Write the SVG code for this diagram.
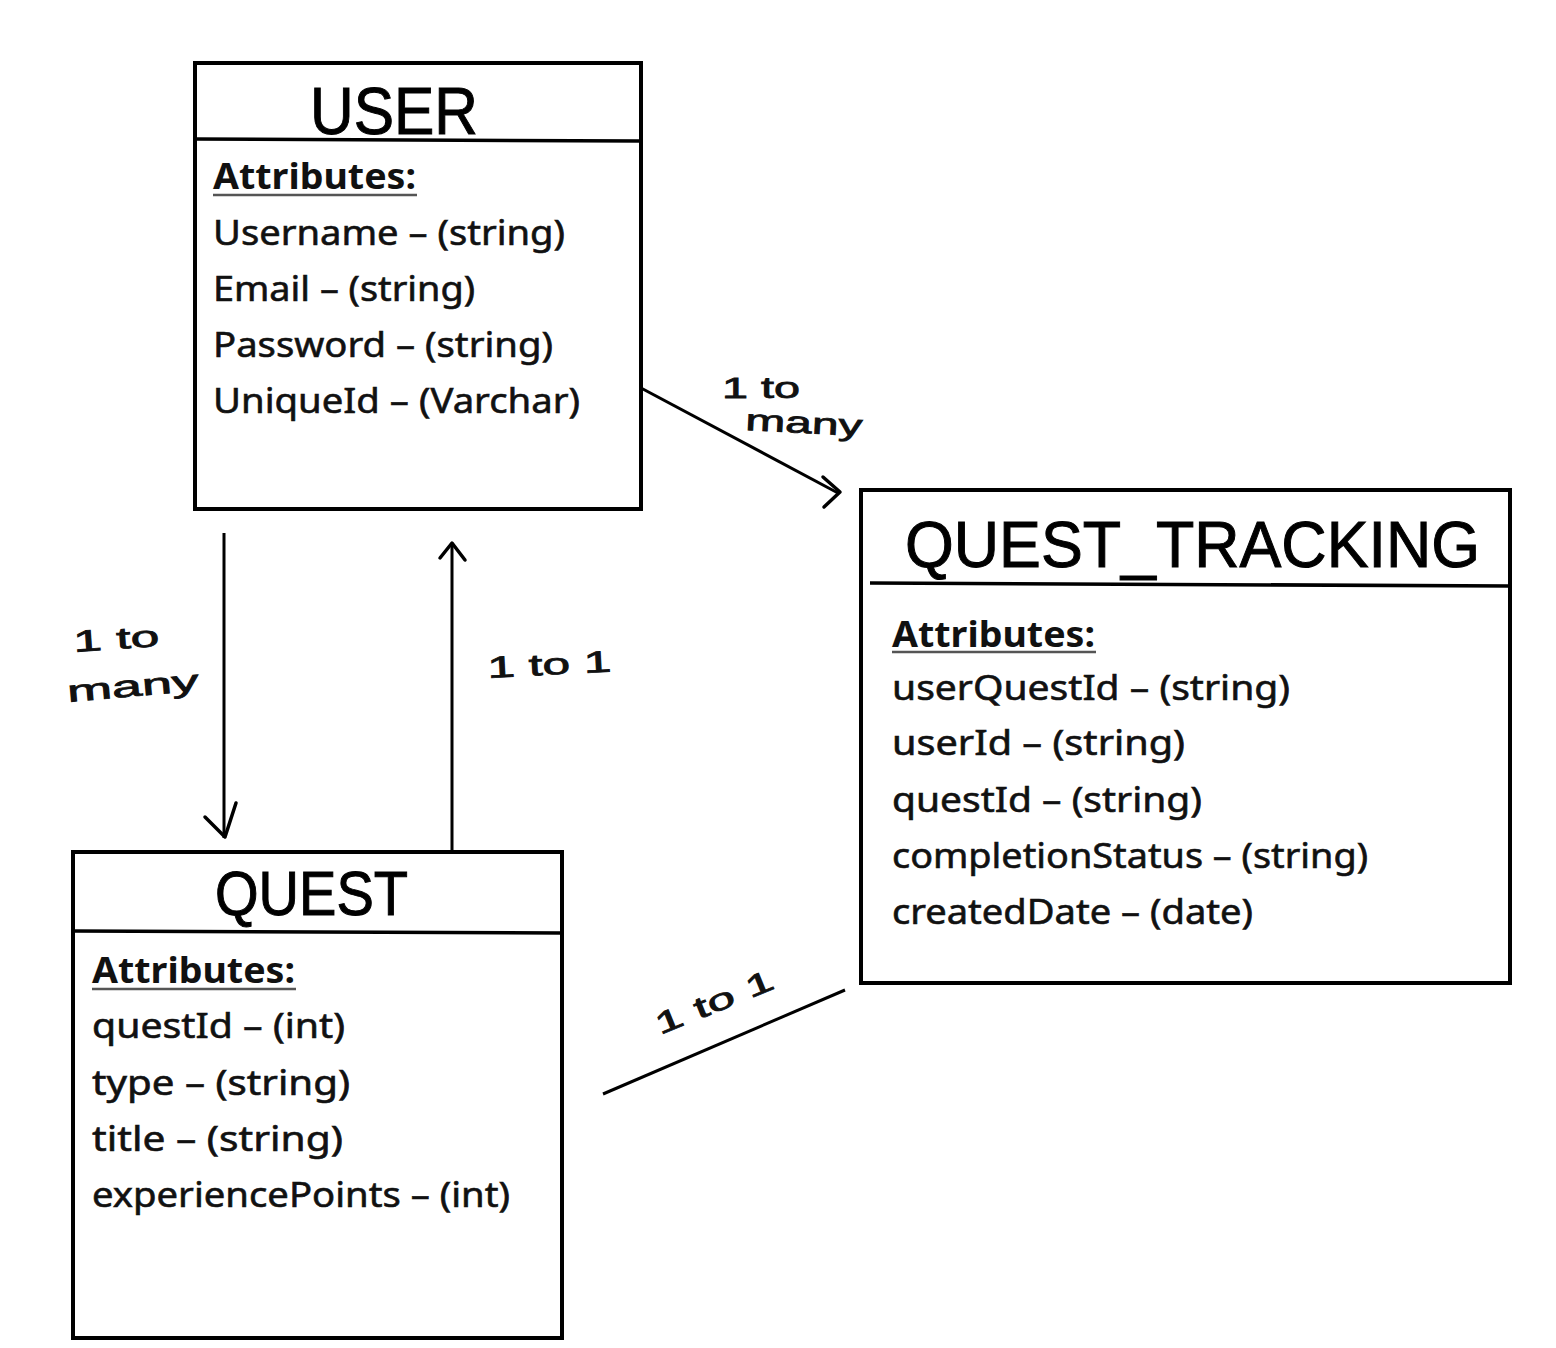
<svg xmlns="http://www.w3.org/2000/svg" width="1556" height="1348" viewBox="0 0 1556 1348">
<style>
.box{fill:#fff;stroke:#000;stroke-width:4}
.div{stroke:#000;stroke-width:3.5}
.title{font-family:"Liberation Sans","Open Sans",sans-serif;fill:#000;stroke:#000;stroke-width:1}
.attrh{font-family:"Noto Sans","Open Sans",sans-serif;font-weight:bold;font-size:36px;fill:#111}
.attr{font-family:"Noto Sans","Open Sans",sans-serif;font-size:35px;fill:#111;stroke:#111;stroke-width:0.6}
.ul{stroke:#555;stroke-width:2.5}
.conn{stroke:#000;stroke-width:3;fill:none}
.head{stroke:#000;stroke-width:3.5;fill:none;stroke-linecap:round;stroke-linejoin:round}
.hand{font-family:"Liberation Sans",sans-serif;font-size:30px;fill:#111;stroke:#111;stroke-width:0.8}
</style>
<rect width="1556" height="1348" fill="#fff"/>
<g id="connectors">
  <line class="conn" x1="641" y1="388" x2="838" y2="493"/>
  <polyline class="head" points="823,477 840,492 824,507"/>
  <line class="conn" x1="224" y1="533" x2="224" y2="838"/>
  <polyline class="head" points="205,817 225,837 236,803"/>
  <line class="conn" x1="452" y1="855" x2="452" y2="545"/>
  <polyline class="head" points="440,558 452,543 465,560"/>
  <line class="conn" x1="603" y1="1094" x2="845" y2="990"/>
  <text class="hand" x="722" y="398" textLength="78" lengthAdjust="spacingAndGlyphs">1 to</text>
  <text class="hand" x="745" y="430" textLength="117" lengthAdjust="spacingAndGlyphs" transform="rotate(3 745 430)">many</text>
  <text class="hand" x="74" y="652" textLength="86" lengthAdjust="spacingAndGlyphs" transform="rotate(-4 74 652)">1 to</text>
  <text class="hand" x="68" y="702" textLength="132" lengthAdjust="spacingAndGlyphs" transform="rotate(-5 68 702)">many</text>
  <text class="hand" x="488" y="678" font-size="38" textLength="124" lengthAdjust="spacingAndGlyphs" transform="rotate(-3 488 678)">1 to 1</text>
  <text class="hand" x="660" y="1035" font-size="38" textLength="125" lengthAdjust="spacingAndGlyphs" transform="rotate(-22 660 1035)">1 to 1</text>
</g>
<g id="user">
  <rect class="box" x="195" y="63" width="446" height="446"/>
  <line class="div" x1="195" y1="139" x2="641" y2="141"/>
  <text class="title" x="310" y="134" font-size="67" textLength="168" lengthAdjust="spacingAndGlyphs">USER</text>
  <text class="attrh" x="213" y="189" textLength="203" lengthAdjust="spacingAndGlyphs">Attributes:</text>
  <line class="ul" x1="213" y1="195" x2="417" y2="195"/>
  <text class="attr" x="213" y="245" textLength="352" lengthAdjust="spacingAndGlyphs">Username – (string)</text>
  <text class="attr" x="213" y="301" textLength="262" lengthAdjust="spacingAndGlyphs">Email – (string)</text>
  <text class="attr" x="213" y="357" textLength="340" lengthAdjust="spacingAndGlyphs">Password – (string)</text>
  <text class="attr" x="213" y="413" textLength="367" lengthAdjust="spacingAndGlyphs">UniqueId – (Varchar)</text>
</g>
<g id="quest_tracking">
  <rect class="box" x="861" y="490" width="649" height="493"/>
  <line class="div" x1="870" y1="583" x2="1510" y2="586"/>
  <text class="title" x="905" y="567" font-size="65" textLength="575" lengthAdjust="spacingAndGlyphs">QUEST_TRACKING</text>
  <text class="attrh" x="892" y="647" textLength="203" lengthAdjust="spacingAndGlyphs">Attributes:</text>
  <line class="ul" x1="892" y1="652" x2="1096" y2="652"/>
  <text class="attr" x="892" y="700" textLength="398" lengthAdjust="spacingAndGlyphs">userQuestId – (string)</text>
  <text class="attr" x="892" y="755" textLength="293" lengthAdjust="spacingAndGlyphs">userId – (string)</text>
  <text class="attr" x="892" y="812" textLength="310" lengthAdjust="spacingAndGlyphs">questId – (string)</text>
  <text class="attr" x="892" y="868" textLength="476" lengthAdjust="spacingAndGlyphs">completionStatus – (string)</text>
  <text class="attr" x="892" y="924" textLength="361" lengthAdjust="spacingAndGlyphs">createdDate – (date)</text>
</g>
<g id="quest">
  <rect class="box" x="73" y="852" width="489" height="486"/>
  <line class="div" x1="73" y1="931" x2="562" y2="933"/>
  <text class="title" x="215" y="915" font-size="63" textLength="193" lengthAdjust="spacingAndGlyphs">QUEST</text>
  <text class="attrh" x="92" y="983" textLength="203" lengthAdjust="spacingAndGlyphs">Attributes:</text>
  <line class="ul" x1="92" y1="989" x2="296" y2="989"/>
  <text class="attr" x="92" y="1038" textLength="253" lengthAdjust="spacingAndGlyphs">questId – (int)</text>
  <text class="attr" x="92" y="1095" textLength="258" lengthAdjust="spacingAndGlyphs">type – (string)</text>
  <text class="attr" x="92" y="1151" textLength="251" lengthAdjust="spacingAndGlyphs">title – (string)</text>
  <text class="attr" x="92" y="1207" textLength="418" lengthAdjust="spacingAndGlyphs">experiencePoints – (int)</text>
</g>
</svg>
